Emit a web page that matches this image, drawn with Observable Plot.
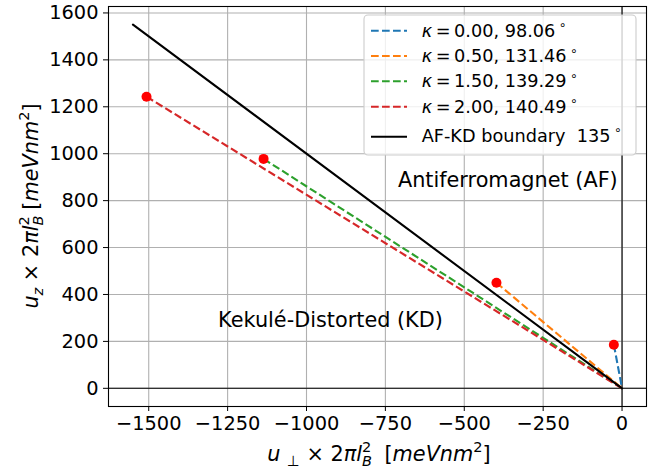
<!DOCTYPE html>
<html><head><meta charset="utf-8">
<script src="https://cdn.jsdelivr.net/npm/d3@7"></script>
<script src="https://cdn.jsdelivr.net/npm/@observablehq/plot@0.6"></script>
<style>body{margin:0;background:#fff;} svg{display:block} text{white-space:pre}</style>
</head><body><div id="chart"></div>
<script>
const kappas = ["0.00", "0.50", "1.50", "2.00"];
const angles = ["98.06", "131.46", "139.29", "140.49"];
const uPerp = [-26, -398, -1136, -1507];
const uZ = [186, 450, 978, 1243];
const seriesColors = ["#1f77b4", "#ff7f0e", "#2ca02c", "#d62728"];
const boundaryX = [-1550, 0];
const boundaryY = [1550, 0];
const boundaryLabel = "AF-KD boundary  135";
const xTicks = [-1500, -1250, -1000, -750, -500, -250, 0];
const yTicks = [0, 200, 400, 600, 800, 1000, 1200, 1400, 1600];
const regionLabels = ["Antiferromagnet (AF)", "Kekulé-Distorted (KD)"];
const regionX = [-362, -924];
const regionY = [885, 289];

const series = kappas.map((k, i) => ({k, angle: angles[i], x: uPerp[i], y: uZ[i], color: seriesColors[i]}));
const boundary = boundaryX.map((x, i) => ({x, y: boundaryY[i]}));
const regions = regionLabels.map((t, i) => ({t, x: regionX[i], y: regionY[i]}));

const W = 662, H = 471;
const mL = 108, mR = 16, mT = 6, mB = 65;
const FS = 19.4, AFS = 20.8, LFS = 17.7;
const fmt = d => d < 0 ? "\u2212" + Math.abs(d) : String(d);

const chart = Plot.plot({
  width: W, height: H,
  marginLeft: mL, marginRight: mR, marginTop: mT, marginBottom: mB,
  style: {fontFamily: "DejaVu Sans", fontSize: FS + "px", color: "black", background: "white"},
  x: {domain: [-1627.5, 77.5]},
  y: {domain: [-77.5, 1627.5]},
  color: {type: "identity"},
  marks: [
    Plot.gridX(xTicks, {stroke: "#b0b0b0", strokeOpacity: 1, strokeWidth: 1.1}),
    Plot.gridY(yTicks, {stroke: "#b0b0b0", strokeOpacity: 1, strokeWidth: 1.1}),
    Plot.ruleX([0], {stroke: "black", strokeWidth: 1.1}),
    Plot.ruleY([0], {stroke: "black", strokeWidth: 1.1}),
    Plot.link(series, {x1: d => d.x, y1: d => d.y, x2: d => 0, y2: d => 0, stroke: "color", strokeWidth: 2.1, strokeDasharray: "7.7,3.3"}),
    Plot.line(boundary, {x: "x", y: "y", stroke: "black", strokeWidth: 2.1}),
    Plot.dot(series, {x: "x", y: "y", r: 5, fill: "red", stroke: "none"}),
    Plot.text(regions, {x: "x", y: "y", text: "t", fontSize: AFS, fill: "black"}),
    Plot.frame({stroke: "black", strokeWidth: 1.1}),
    Plot.axisX(xTicks, {tickSize: 5, tickPadding: 5, tickFormat: fmt, label: null, fontSize: FS}),
    Plot.axisY(yTicks, {tickSize: 5, tickPadding: 5, tickFormat: fmt, label: null, fontSize: FS})
  ]
});
document.getElementById("chart").appendChild(chart);

const svg = d3.select(chart);

function mathText(parent, parts, size, anchor) {
  const text = parent.append("text").attr("font-size", size).attr("fill", "black")
    .attr("font-family", "DejaVu Sans").attr("text-anchor", anchor || "start");
  let cur = 0, lastSub = null;
  for (const p of parts) {
    const target = p.sub ? size * 0.26 : p.sup ? -size * 0.42 : 0;
    const ts = text.append("tspan").text(p.t).attr("dy", target - cur);
    cur = target;
    if (p.i) ts.attr("font-style", "italic");
    if (p.sub || p.sup) ts.attr("font-size", size * 0.7);
    if (p.sup && lastSub) ts.attr("dx", -lastSub.node().getComputedTextLength());
    lastSub = p.sub ? ts : null;
  }
  return text;
}

// x label
mathText(svg.append("g"), [
  {t: "u ", i: 1}, {t: "\u22A5", sub: 1}, {t: " \u00D7 2"}, {t: "\u03C0", i: 1}, {t: "l", i: 1},
  {t: "B", i: 1, sub: 1}, {t: "2", sup: 1}, {t: "  ["}, {t: "meVnm", i: 1}, {t: "2", sup: 1}, {t: "]"}
], AFS, "middle").attr("x", 379).attr("y", 461);

// y label
mathText(svg.append("g").attr("transform", `translate(38,206) rotate(-90)`), [
  {t: "u", i: 1}, {t: "z", i: 1, sub: 1}, {t: " \u00D7 2"}, {t: "\u03C0", i: 1}, {t: "l", i: 1},
  {t: "B", i: 1, sub: 1}, {t: "2", sup: 1}, {t: " ["}, {t: "meVnm", i: 1}, {t: "2", sup: 1}, {t: "]"}
], AFS, "middle");

// legend
const lg = svg.append("g");
lg.append("rect").attr("x", 364).attr("y", 15).attr("width", 272).attr("height", 140).attr("rx", 4)
  .attr("fill", "white").attr("fill-opacity", 0.8).attr("stroke", "#cccccc").attr("stroke-width", 1.1);
const rowY = [30.7, 56, 81.3, 106.7, 136.7];
series.forEach((s, i) => {
  lg.append("line").attr("x1", 371).attr("x2", 407).attr("y1", rowY[i]).attr("y2", rowY[i])
    .attr("stroke", s.color).attr("stroke-width", 2.1).attr("stroke-dasharray", "7.7,3.3");
  mathText(lg, [{t: "\u03BA", i: 1}, {t: "\u2009=\u2009" + s.k + ", " + s.angle + "\u2009"}, {t: "\u2218", sup: 1}], LFS)
    .attr("x", 421.7).attr("y", rowY[i] + 6);
});
lg.append("line").attr("x1", 371).attr("x2", 407).attr("y1", rowY[4]).attr("y2", rowY[4])
  .attr("stroke", "black").attr("stroke-width", 2.1);
mathText(lg, [{t: boundaryLabel + "\u2009"}, {t: "\u2218", sup: 1}], LFS).attr("x", 421.7).attr("y", rowY[4] + 5);
</script></body></html>
